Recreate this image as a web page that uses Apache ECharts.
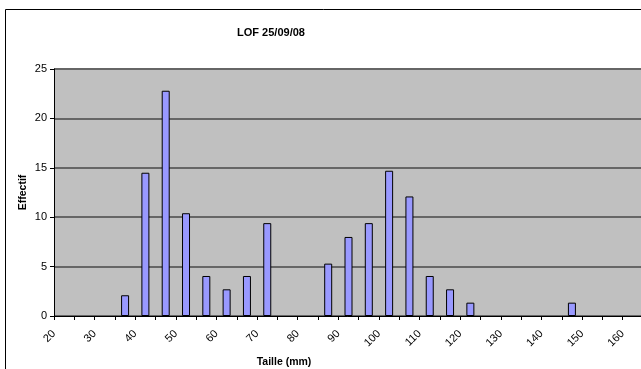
<!DOCTYPE html>
<html>
<head>
<meta charset="utf-8">
<script src="https://cdn.jsdelivr.net/npm/echarts@6/dist/echarts.min.js"></script>
<style>html,body{margin:0;padding:0;background:#fff}#c{width:641px;height:369px}</style>
</head>
<body>
<div id="c"></div>
<script>
var title = 'LOF 25/09/08';
var xTitle = 'Taille (mm)';
var yTitle = 'Effectif';
var binCenters = [37.5, 42.5, 47.5, 52.5, 57.5, 62.5, 67.5, 72.5, 87.5, 92.5, 97.5, 102.5, 107.5, 112.5, 117.5, 122.5, 147.5];
var counts     = [2.1, 14.5, 22.8, 10.4, 4.05, 2.7, 4.05, 9.4, 5.3, 8.0, 9.4, 14.7, 12.1, 4.05, 2.7, 1.35, 1.35];
var xMin = 20, xMax = 165, xStep = 5;
var yMin = 0, yMax = 25, yStep = 5;

var chart = echarts.init(document.getElementById('c'), null, {renderer: 'canvas'});
var font = 'Liberation Sans, Arial, sans-serif';
chart.setOption({
  animation: false,
  backgroundColor: '#fff',
  graphic: [{
    type: 'rect', shape: {x: 5.5, y: 9.5, width: 700, height: 400},
    style: {fill: 'none', stroke: '#000', lineWidth: 1}, z: -1
  }],
  title: {
    text: title, left: 266, top: 22, textAlign: 'center',
    textStyle: {fontFamily: font, fontSize: 11, fontWeight: 'bold', color: '#000'}
  },
  grid: {left: 54, right: -2, top: 69, bottom: 53, containLabel: false, outerBoundsMode: 'none',
         show: true, backgroundColor: '#C0C0C0', borderWidth: 0},
  xAxis: {
    type: 'value', min: xMin, max: xMax, interval: xStep,
    name: xTitle, nameLocation: 'middle', nameGap: 41, nameMoveOverlap: false,
    nameTextStyle: {fontFamily: font, fontSize: 10.5, fontWeight: 'bold', color: '#000', padding: [0, 129, 0, 0]},
    axisLine: {show: true, lineStyle: {color: '#000', width: 1}},
    axisTick: {show: true, inside: false, length: 4, lineStyle: {color: '#000'}},
    axisLabel: {
      rotate: 45, margin: 16, fontFamily: font, fontSize: 11, color: '#000', showMaxLabel: false,
      formatter: function (v) { return (v % 10 === 0) ? String(v) : ''; }
    },
    splitLine: {show: false}
  },
  yAxis: {
    type: 'value', min: yMin, max: yMax, interval: yStep,
    name: yTitle, nameLocation: 'middle', nameGap: 25, nameRotate: 90, nameMoveOverlap: false,
    nameTextStyle: {fontFamily: font, fontSize: 10.5, fontWeight: 'bold', color: '#000'},
    axisLine: {show: true, lineStyle: {color: '#000', width: 1}},
    axisTick: {show: true, inside: false, length: 4, lineStyle: {color: '#000'}},
    axisLabel: {margin: 7, fontFamily: font, fontSize: 11, color: '#000'},
    splitLine: {show: true, lineStyle: {color: '#666', width: 2}}
  },
  series: [{
    type: 'bar',
    data: binCenters.map(function (x, i) { return [x, counts[i]]; }),
    barWidth: 8,
    itemStyle: {color: '#9999FF', borderColor: '#000', borderWidth: 1}
  }]
});
</script>
</body>
</html>
